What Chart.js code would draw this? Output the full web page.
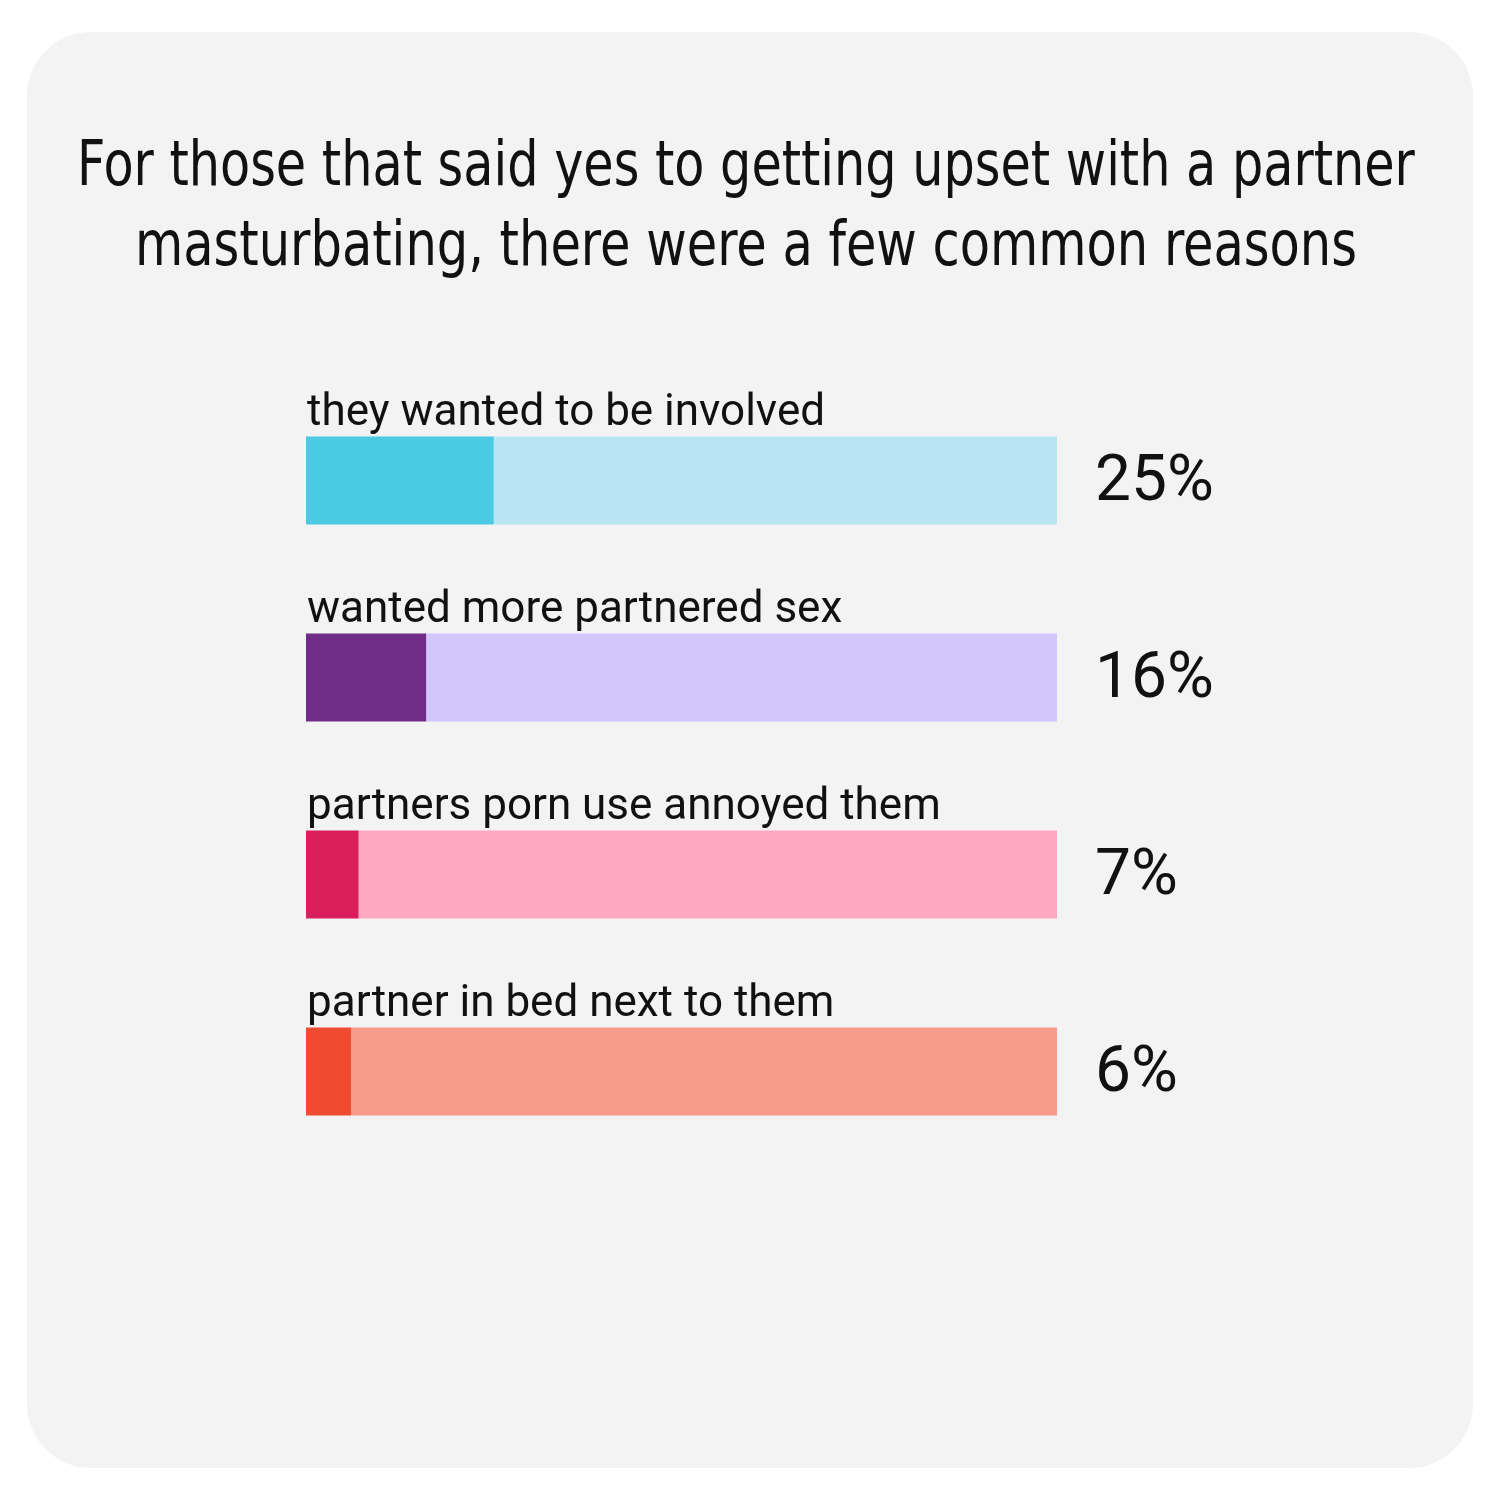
<!DOCTYPE html>
<html><head><meta charset="utf-8">
<script src="https://cdn.jsdelivr.net/npm/chart.js@4"></script>
<style>
html,body{margin:0;padding:0;background:#fff;width:1500px;height:1500px;overflow:hidden}
#card{position:absolute;left:27px;top:32px;width:1446px;height:1436px;background:#f3f3f3;border-radius:64px}
.t{position:absolute;white-space:nowrap;font-family:"DejaVu Sans Condensed","Liberation Sans Narrow",sans-serif;font-size:62px;line-height:62px;color:#111;transform-origin:0 0}
canvas{position:absolute;left:0;top:0}
</style></head><body>
<div id="card"></div>
<div class="t" id="t1">For those that said yes to getting upset with a partner</div>
<div class="t" id="t2">masturbating, there were a few common reasons</div>
<canvas id="c" width="1500" height="1500"></canvas>
<script>
function fit(id,left,right,top){const e=document.getElementById(id);const w=e.offsetWidth;e.style.left=left+'px';e.style.top=top+'px';e.style.transform='scaleX('+((right-left)/w)+')';}
fit('t1',77,1415,133);fit('t2',135,1357,213);
const categories=["they wanted to be involved","wanted more partnered sex","partners porn use annoyed them","partner in bed next to them"];
const values=[25,16,7,6];
const valueLabels=["25%","16%","7%","6%"];
const darkColors=["#4acae3","#6f2d88","#da1e5c","#f04b30"];
const lightColors=["#b9e4f1","#d3c6fd","#ffa8c2","#f69a8a"];
const remainder=values.map(v=>100-v);
const labelPlugin={id:'lbl',afterDatasetsDraw(chart){
  const ctx=chart.ctx, y=chart.scales.y, x=chart.scales.x;
  ctx.save();ctx.fillStyle='#111';
  categories.forEach((c,i)=>{
    const cy=y.getPixelForValue(i);
    ctx.font='44px Roboto';ctx.textBaseline='alphabetic';ctx.textAlign='left';
    ctx.fillText(c,x.getPixelForValue(0)+1,cy-56);
    ctx.font='64px Roboto';ctx.textBaseline='middle';
    ctx.fillText(valueLabels[i],x.getPixelForValue(100)+38,cy+3);
  });
  ctx.restore();
}};
new Chart(document.getElementById('c'),{type:'bar',
 data:{labels:categories,datasets:[
  {data:values,backgroundColor:darkColors,barPercentage:0.447,categoryPercentage:1},
  {data:remainder,backgroundColor:lightColors,barPercentage:0.447,categoryPercentage:1}]},
 options:{indexAxis:'y',responsive:false,animation:false,
  layout:{padding:{left:306,right:443,top:382,bottom:330}},
  plugins:{legend:{display:false},tooltip:{enabled:false},title:{display:false}},
  scales:{x:{stacked:true,min:0,max:100,display:false},y:{stacked:true,display:false}}},
 plugins:[labelPlugin]});
</script></body></html>
